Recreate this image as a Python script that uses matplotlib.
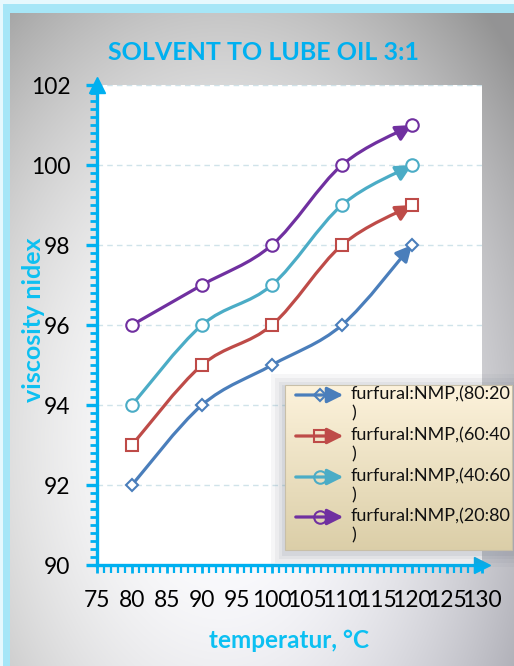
import numpy as np
import matplotlib.pyplot as plt
from matplotlib.path import Path
from matplotlib.patches import FancyArrowPatch, Rectangle
from matplotlib.ticker import MultipleLocator

plt.rcParams['font.family'] = ['Lato', 'DejaVu Sans']

# data
temperature = [80, 90, 100, 110, 120]
vi_80_20 = [92, 94, 95, 96, 98]
vi_60_40 = [93, 95, 96, 98, 99]
vi_40_60 = [94, 96, 97, 99, 100]
vi_20_80 = [96, 97, 98, 100, 101]
series_labels = ["furfural:NMP,(80:20\n)", "furfural:NMP,(60:40\n)",
                 "furfural:NMP,(40:60\n)", "furfural:NMP,(20:80\n)"]

colors = ["#4a7ebb", "#be4b48", "#4bacc6", "#7030a0"]
markers = ["D", "s", "o", "o"]
msizes = [6, 8, 9, 9]
cyan = "#00b0f0"

W, H = 514, 666
fig = plt.figure(figsize=(W / 100, H / 100), dpi=100)

# background gradient + cyan frame (pixel coordinates)
bg = fig.add_axes([0, 0, 1, 1])
bg.set_axis_off()
yy, xx = np.mgrid[0:H, 0:W]
d2 = ((xx - 220) / 310.0) ** 2 + ((yy - 440) / 470.0) ** 2
g = np.clip(1.0 - 0.27 * d2, 0.58, 1.0)
img = np.dstack([g, g, np.clip(g + 0.03 * (xx / W) * (yy / H), 0, 1)])
bg.imshow(img, extent=[0, W, H, 0], aspect='auto', interpolation='bilinear')
bg.add_patch(Rectangle((0, 0), W, 13, color="#a6e6f7", lw=0))
bg.add_patch(Rectangle((0, 0), 10, H, color="#a6e6f7", lw=0))
bg.add_patch(Rectangle((0, 0), W, 4, color="#e6f8fd", lw=0))
bg.add_patch(Rectangle((0, 0), 3, H, color="#e6f8fd", lw=0))
bg.set_xlim(0, W)
bg.set_ylim(H, 0)

# main plot
ax = fig.add_axes([97 / W, 1 - 565 / H, (482 - 97) / W, (565 - 85) / H])
ax.set_facecolor("white")
ax.set_xlim(75, 130)
ax.set_ylim(90, 102)
ax.xaxis.set_major_locator(MultipleLocator(5))
ax.xaxis.set_minor_locator(MultipleLocator(1))
ax.yaxis.set_major_locator(MultipleLocator(2))
ax.yaxis.set_minor_locator(MultipleLocator(0.2))
for s in ["top", "right"]:
    ax.spines[s].set_visible(False)
for s in ["left", "bottom"]:
    ax.spines[s].set_color(cyan)
    ax.spines[s].set_linewidth(2.4)
ax.tick_params(axis='y', which='major', direction='out', length=8, width=2.4,
               color=cyan, pad=11, labelsize=16.5)
ax.tick_params(axis='y', which='minor', direction='out', length=5, width=2.0, color=cyan)
ax.tick_params(axis='x', which='major', direction='out', length=6, width=2.0,
               color=cyan, pad=12, labelsize=16.5)
ax.tick_params(axis='x', which='minor', direction='out', length=6, width=1.6, color=cyan)
ax.plot([0], [1], marker="^", ms=11, color=cyan, transform=ax.transAxes, clip_on=False)
ax.plot([1], [0], marker=">", ms=11, color=cyan, transform=ax.transAxes, clip_on=False)
ax.grid(axis='y', which='major', color="#cfe3ea", linestyle=(0, (4, 3)), linewidth=1.0)
ax.set_axisbelow(True)


def smooth_path(x, y):
    pts = np.column_stack([x, y]).astype(float)
    n = len(pts)
    verts = [pts[0]]
    codes = [Path.MOVETO]
    for i in range(n - 1):
        p0 = pts[i - 1] if i > 0 else pts[i]
        p1 = pts[i]
        p2 = pts[i + 1]
        p3 = pts[i + 2] if i + 2 < n else pts[i + 1]
        verts += [p1 + (p2 - p0) / 6.0, p2 - (p3 - p1) / 6.0, p2]
        codes += [Path.CURVE4] * 3
    return Path(verts, codes)


all_series = [vi_80_20, vi_60_40, vi_40_60, vi_20_80]
for vals, c, m, ms in zip(all_series, colors, markers, msizes):
    arr = FancyArrowPatch(path=smooth_path(temperature, vals),
                          arrowstyle="-|>,head_length=0.8,head_width=0.4",
                          mutation_scale=12, color=c, lw=2.3, zorder=3)
    ax.add_patch(arr)
    ax.plot(temperature, vals, linestyle="none", marker=m, ms=ms, mfc="white",
            mec=c, mew=1.5, zorder=4)

# overlay for texts and legend (pixel coordinates)
ov = fig.add_axes([0, 0, 1, 1], zorder=5)
ov.set_axis_off()
ov.patch.set_alpha(0)

ov.text(264, 53, "SOLVENT TO LUBE OIL 3:1", color=cyan, fontsize=18,
        fontweight="bold", ha="center", va="center")
ov.text(34, 320, "viscosity nidex", color="#0cc0f2", fontsize=18,
        fontweight="bold", ha="center", va="center", rotation=90)
ov.text(289, 640, "temperatur, °C", color="#0cc0f2", fontsize=17.5,
        fontweight="bold", ha="center", va="center")

# legend box with shadow
for k, a in zip([14, 10, 6, 3], [0.06, 0.07, 0.08, 0.1]):
    ov.add_patch(Rectangle((285 - k, 385 - k + 3), 227 + 2 * k, 165 + 2 * k,
                           color="#6a7484", alpha=a, lw=0))
grad = np.linspace(0, 1, 100)[:, None]
top = np.array([0.99, 0.95, 0.86])
bot = np.array([0.86, 0.81, 0.66])
limg = top[None, None, :] * (1 - grad[:, :, None]) + bot[None, None, :] * grad[:, :, None]
ov.imshow(limg, extent=[285, 512, 550, 385], aspect='auto', zorder=2)
ov.add_patch(Rectangle((285, 385), 227, 165, fill=False, ec="#c8bfa8", lw=0.8, zorder=3))
ov.set_xlim(0, W)
ov.set_ylim(H, 0)

row_y = [395, 436, 477, 517]
for ry, c, m, ms, lab in zip(row_y, colors, markers, msizes, series_labels):
    ov.add_patch(FancyArrowPatch((293, ry), (346, ry),
                                 arrowstyle="-|>,head_length=0.8,head_width=0.4",
                                 mutation_scale=12, color=c, lw=2.3, zorder=4))
    ov.plot([320], [ry], linestyle="none", marker=m, ms=ms, mfc="none",
            mec=c, mew=1.5, zorder=5)
    ov.text(351, ry - 9, lab, fontsize=13, color="#111111", ha="left", va="top",
            linespacing=1.25, zorder=5)

fig.savefig("out.png", dpi=100)
